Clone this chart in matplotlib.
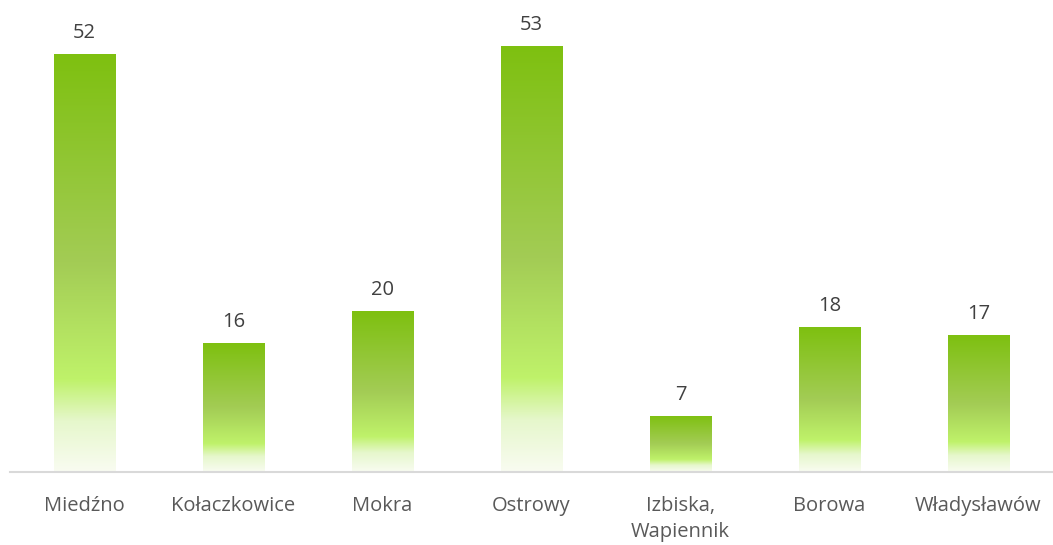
import matplotlib
matplotlib.use("Agg")
import matplotlib.pyplot as plt
import numpy as np
from matplotlib.colors import LinearSegmentedColormap

categories = ["Miedźno", "Kołaczkowice", "Mokra", "Ostrowy", "Izbiska,\nWapiennik", "Borowa", "Władysławów"]
values = [52, 16, 20, 53, 7, 18, 17]

plt.rcParams['font.family'] = ['Open Sans', 'DejaVu Sans']

fig = plt.figure(figsize=(10.53, 5.45), dpi=100)
ax = fig.add_axes([10/1053, 73/545, 1043/1053, 472/545])

cmap = LinearSegmentedColormap.from_list("g", [
    (0.0, "#f9fcf1"),
    (0.12, "#e6f7cc"),
    (0.22, "#bff26a"),
    (0.5, "#a3cc55"),
    (1.0, "#7ec010"),
])

x = np.arange(len(categories))
bars = ax.bar(x, values, width=0.41, color="none", edgecolor="none")
grad = np.linspace(0, 1, 256).reshape(-1, 1)
for b in bars:
    x0, y0 = b.get_x(), b.get_y()
    w, h = b.get_width(), b.get_height()
    im = ax.imshow(grad, cmap=cmap, origin="lower", aspect="auto",
                   extent=[x0, x0 + w, y0, y0 + h], zorder=2)
    im.set_clip_path(b)

for xi, v in zip(x, values):
    ax.annotate(str(v), (xi, v), xytext=(0, 8), textcoords="offset points",
                ha="center", va="bottom", fontsize=14.5, color="#404040")

ax.set_xlim(-0.5, len(categories) - 0.5)
ax.set_ylim(0, 58.7)
ax.set_xticks(x)
ax.set_xticklabels(categories, fontsize=14.5, color="#595959", linespacing=1.45)
ax.tick_params(axis="x", length=0, pad=17)
ax.set_yticks([])
for s in ["top", "right", "left"]:
    ax.spines[s].set_visible(False)
ax.spines["bottom"].set_color("#d9d9d9")
ax.spines["bottom"].set_linewidth(1.5)

fig.savefig("out.png", dpi=100)
